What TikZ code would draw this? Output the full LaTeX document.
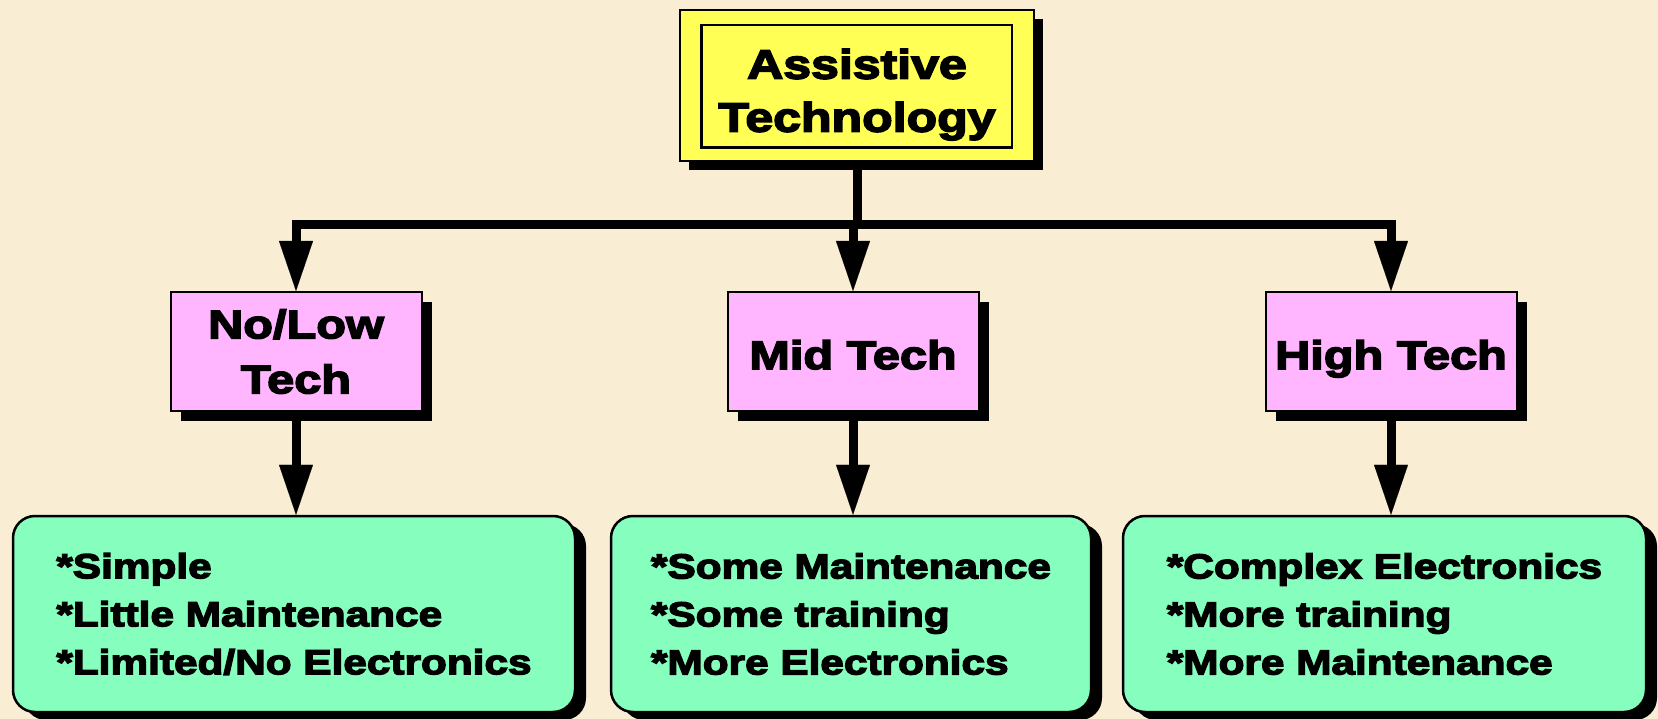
\documentclass[tikz,border=0pt]{standalone}
\usepackage{fontspec}
\newfontfamily\blk{Liberation Sans Bold}[FakeStretch=1.22,FakeBold=4]
\usetikzlibrary{arrows.meta,shadows,calc}
\definecolor{bgc}{RGB}{249,238,212}
\definecolor{ylw}{RGB}{255,255,85}
\definecolor{pnk}{RGB}{255,182,255}
\definecolor{grn}{RGB}{134,255,190}
\begin{document}
\begin{tikzpicture}[x=1pt,y=-1pt,
  topbox/.style={draw=black,line width=1.5pt,fill=ylw,minimum width=354pt,minimum height=151pt,
    inner sep=0pt,align=center,font=\blk\fontsize{41}{53}\selectfont,
    general shadow={shadow xshift=9pt,shadow yshift=-9pt,fill=black}},
  midbox/.style={draw=black,line width=2pt,fill=pnk,minimum width=251pt,minimum height=119pt,
    inner sep=0pt,align=center,font=\blk\fontsize{39.9}{55}\selectfont,
    general shadow={shadow xshift=10pt,shadow yshift=-10pt,fill=black}},
  oneline/.style={text height=35pt,text depth=0pt},
  leafbox/.style={draw=black,line width=2.5pt,fill=grn,rounded corners=22pt,minimum height=196pt,
    inner sep=0pt,align=left,font=\blk\fontsize{34.7}{48}\selectfont,
    general shadow={shadow xshift=11pt,shadow yshift=-8pt,fill=black}},
  conn/.style={line width=9pt},
  arr/.style={line width=9pt,-{Triangle[length=50pt,width=34pt,line width=0.1pt]}}
]
\fill[bgc] (0,0) rectangle (1658,719);
\useasboundingbox (0,0) rectangle (1658,719);

% top
\node[topbox] (top) at (857,85.5) {\raisebox{-9pt}[\height][\depth]{\begin{tabular}{@{}c@{}}Assistive\\Technology\end{tabular}}};
\draw[line width=2.5pt] ([shift={(22,16)}]top.north west) rectangle ([shift={(-23,-14)}]top.south east);

% middle level
\node[midbox] (low) at (296,351.5) {No/Low\\Tech};
\node[midbox,oneline] (mid) at (853,351.5) {Mid Tech};
\node[midbox,oneline] (high) at (1391,351.5) {High Tech};

% leaves
\node[leafbox,minimum width=562pt] (lowL) at (294,614) {*Simple\\*Little Maintenance\\*Limited/No Electronics};
\node[leafbox,minimum width=480pt] (midL) at (851,614) {*Some Maintenance\\*Some training\\*More Electronics};
\node[leafbox,minimum width=523pt] (highL) at (1384.5,614) {*Complex Electronics\\*More training\\*More Maintenance};

% connectors
\coordinate (hub) at ($(top.south)+(0,63)$);
\draw[conn] (top.south) -- (hub);
\draw[arr] (hub) -| (low.north);
\draw[arr] (hub) -| (high.north);
\draw[arr] (mid.north |- hub) -- (mid.north);

\draw[arr] (low.south) -- (low.south |- lowL.north);
\draw[arr] (mid.south) -- (mid.south |- midL.north);
\draw[arr] (high.south) -- (high.south |- highL.north);
\end{tikzpicture}
\end{document}
